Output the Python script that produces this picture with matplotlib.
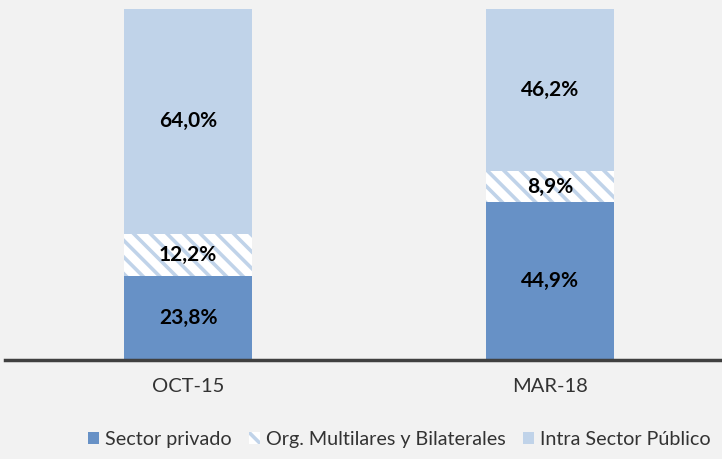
import numpy as np
import matplotlib.pyplot as plt

plt.rcParams['font.family'] = ['Lato', 'DejaVu Sans']
plt.rcParams['hatch.linewidth'] = 2.6

periods = ['OCT-15', 'MAR-18']
privado = [23.8, 44.9]
multilat = [12.2, 8.9]
intra = [64.0, 46.2]
names = ['Sector privado', 'Org. Multilares y Bilaterales', 'Intra Sector Público']

dark = '#6791C6'
light = '#C0D3E9'
bg = '#F2F2F2'

fig = plt.figure(figsize=(7.22, 4.59), dpi=100, facecolor=bg)
ax = fig.add_axes([0.007, 0.2157, 0.993, 0.769], facecolor=bg)

x = np.arange(len(periods))
w = 0.354
b1 = ax.bar(x, privado, w, color=dark, linewidth=0, label=names[0])
b2 = ax.bar(x, multilat, w, bottom=privado, facecolor='white', edgecolor=light,
            hatch='\\\\', linewidth=0, label=names[1])
bot3 = np.array(privado) + np.array(multilat)
b3 = ax.bar(x, intra, w, bottom=bot3, color=light, linewidth=0, label=names[2])

for vals, bots in [(privado, [0, 0]), (multilat, privado), (intra, bot3)]:
    for xi, v, b in zip(x, vals, bots):
        ax.text(xi, b + v / 2, f'{v:.1f}%'.replace('.', ','), ha='center', va='center',
                fontsize=15, fontweight='bold', color='black')

ax.set_xlim(-0.506, 1.475)
ax.set_ylim(0, 100.5)
ax.set_yticks([])
ax.set_xticks(x)
ax.set_xticklabels(periods, fontsize=14.5, color='#333333')
ax.tick_params(axis='x', length=0, pad=13)
for s in ['top', 'right', 'left']:
    ax.spines[s].set_visible(False)
ax.spines['bottom'].set_color('#404040')
ax.spines['bottom'].set_linewidth(2.5)

leg = fig.legend(handles=[b1, b2, b3], loc='center', bbox_to_anchor=(0.553, 0.042), ncol=3,
                 frameon=False, fontsize=14.2, handlelength=0.55, handleheight=0.55,
                 handletextpad=0.3, columnspacing=0.9, borderpad=0)
for t in leg.get_texts():
    t.set_color('#333333')

fig.savefig('out.png', dpi=100, facecolor=bg)
